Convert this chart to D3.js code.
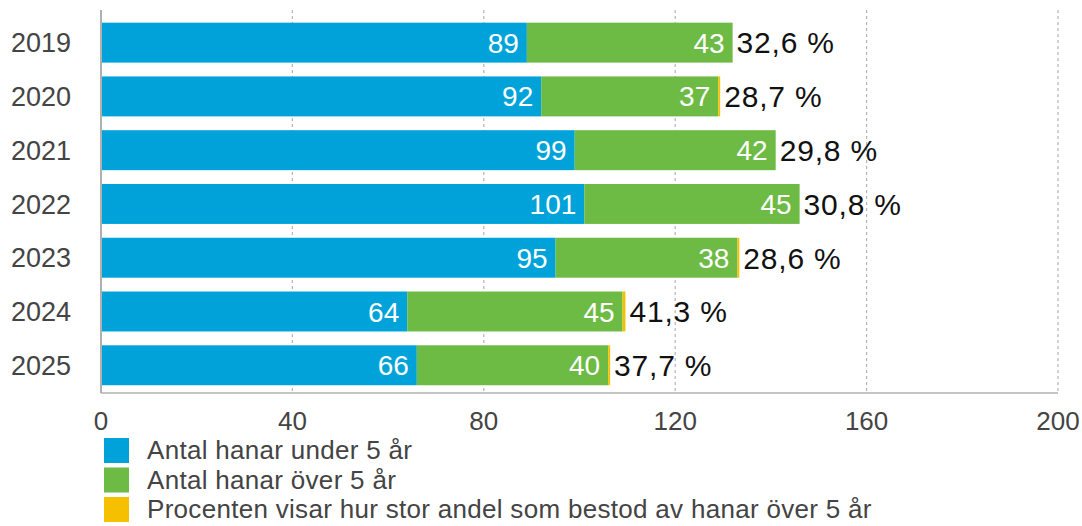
<!DOCTYPE html>
<html>
<head>
<meta charset="utf-8">
<script src="https://cdn.jsdelivr.net/npm/d3@7"></script>
<style>
  body { margin: 0; background: #fff; }
  svg { font-family: "Helvetica Neue", "Liberation Sans", Arial, sans-serif; }
</style>
</head>
<body>
<div id="chart"></div>
<script>
// data
let years = ["2019", "2020", "2021", "2022", "2023", "2024", "2025"]
let under5 = [89, 92, 99, 101, 95, 64, 66]
let over5 = [43, 37, 42, 45, 38, 45, 40]
let pctMarker = [0, 0.4, 0, 0, 0.4, 0.6, 0.4]
let pctLabels = ["32,6 %", "28,7 %", "29,8 %", "30,8 %", "28,6 %", "41,3 %", "37,7 %"]
let xTicks = [0, 40, 80, 120, 160, 200]
let legendLabels = ["Antal hanar under 5 år", "Antal hanar över 5 år", "Procenten visar hur stor andel som bestod av hanar över 5 år"]
let colors = ["#00a3d9", "#6dbb45", "#f5c000"]

let width = 1082, height = 526
let margin = {top: 10, right: 24, bottom: 133, left: 101}
let w = width - margin.left - margin.right,
    h = height - margin.top - margin.bottom

let svg = d3.select("#chart").append("svg")
      .attr("width", width)
      .attr("height", height)

let g = svg.append("g")
      .attr("transform", "translate(" + margin.left + "," + margin.top + ")")

let xScale = d3.scaleLinear().domain([0, 200]).range([0, w])
let yScale = d3.scaleBand().domain(years).range([0, h])
      .paddingInner(0.257).paddingOuter(0.19).align(0.62)

// grid
g.selectAll(".grid")
  .data(xTicks.slice(1))
  .enter().append("line")
  .attr("class", "grid")
  .attr("x1", d => xScale(d)).attr("x2", d => xScale(d))
  .attr("y1", 0).attr("y2", h)
  .attr("stroke", "#b5b5b5")
  .attr("stroke-width", 1.2)
  .attr("stroke-dasharray", "3,3")

// stacked data
let rows = years.map((y, i) => ({
  year: y,
  segs: [
    {x0: 0, x1: under5[i], v: under5[i], c: colors[0]},
    {x0: under5[i], x1: under5[i] + over5[i], v: over5[i], c: colors[1]},
    {x0: under5[i] + over5[i], x1: under5[i] + over5[i] + pctMarker[i], v: pctMarker[i], c: colors[2]}
  ],
  pct: pctLabels[i]
}))

let rowG = g.selectAll(".row")
  .data(rows)
  .enter().append("g")
  .attr("class", "row")
  .attr("transform", d => "translate(0," + yScale(d.year) + ")")

rowG.selectAll("rect")
  .data(d => d.segs)
  .enter().append("rect")
  .attr("x", d => xScale(d.x0))
  .attr("width", d => xScale(d.x1) - xScale(d.x0))
  .attr("y", 0)
  .attr("height", yScale.bandwidth())
  .attr("fill", d => d.c)

// value labels inside (first two segments)
rowG.selectAll(".val")
  .data(d => d.segs.slice(0, 2))
  .enter().append("text")
  .attr("class", "val")
  .attr("x", d => xScale(d.x1) - 8)
  .attr("y", yScale.bandwidth() / 2)
  .attr("dy", "0.36em")
  .attr("text-anchor", "end")
  .attr("fill", "#fff")
  .attr("font-size", 28)
  .attr("font-weight", 300)
  .text(d => d.v)

rowG.append("text")
  .attr("x", d => xScale(d.segs[2].x1) + 4)
  .attr("y", yScale.bandwidth() / 2)
  .attr("dy", "0.36em")
  .attr("fill", "#111")
  .attr("font-size", 30)
  .attr("letter-spacing", 0.8)
  .text(d => d.pct)

// axes lines
g.append("line")
  .attr("x1", 0).attr("x2", 0).attr("y1", 0).attr("y2", h)
  .attr("stroke", "#b0b0b0").attr("stroke-width", 2)
g.append("line")
  .attr("x1", 0).attr("x2", w).attr("y1", h).attr("y2", h)
  .attr("stroke", "#b0b0b0").attr("stroke-width", 1.5)

// year labels
g.selectAll(".ylab")
  .data(years)
  .enter().append("text")
  .attr("class", "ylab")
  .attr("x", -30)
  .attr("y", d => yScale(d) + yScale.bandwidth() / 2)
  .attr("dy", "0.36em")
  .attr("text-anchor", "end")
  .attr("fill", "#444")
  .attr("font-size", 27)
  .text(d => d)

// x tick labels
g.selectAll(".xlab")
  .data(xTicks)
  .enter().append("text")
  .attr("class", "xlab")
  .attr("x", d => xScale(d))
  .attr("y", h + 37)
  .attr("text-anchor", "middle")
  .attr("fill", "#444")
  .attr("font-size", 26)
  .text(d => d)

// legend
let leg = svg.selectAll(".leg")
  .data(legendLabels)
  .enter().append("g")
  .attr("class", "leg")
  .attr("transform", (d, i) => "translate(104," + (438 + i * 29.5) + ")")

leg.append("rect")
  .attr("width", 25).attr("height", 25)
  .attr("fill", (d, i) => colors[i])

leg.append("text")
  .attr("x", 43)
  .attr("y", 12.5)
  .attr("dy", "0.34em")
  .attr("fill", "#444")
  .attr("font-size", 26)
  .attr("letter-spacing", 0.3)
  .text(d => d)
</script>
</body>
</html>
